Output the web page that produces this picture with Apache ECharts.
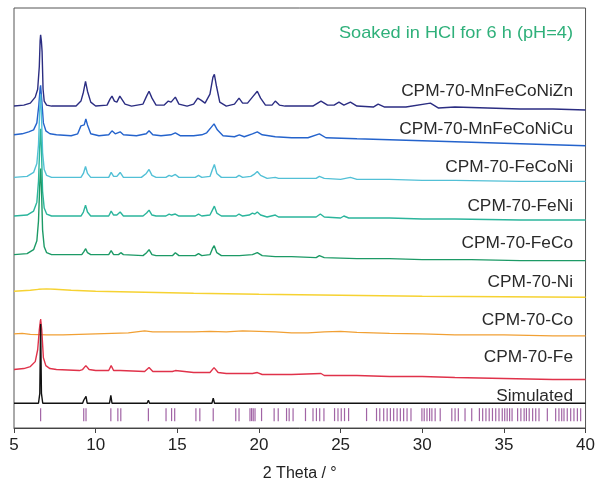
<!DOCTYPE html>
<html>
<head>
<meta charset="utf-8">
<script src="https://cdn.jsdelivr.net/npm/echarts@6/dist/echarts.min.js"></script>
<style>
  html, body { margin: 0; padding: 0; background: #fff; }
  #chart { width: 598px; height: 487px; }
</style>
</head>
<body>
<div id="chart"></div>
<script>
// PXRD patterns of CPM-70 samples after soaking in HCl (pH = 4), 2θ in degrees,
// intensity in arbitrary units relative to each pattern's own baseline.

const xTicks = [5, 10, 15, 20, 25, 30, 35, 40];

const patMnFeCoNiZn = [
  [5,0],[5.6,1],[6.0,3],[6.3,9],[6.45,17],[6.55,40],[6.6,66],[6.63,72],[6.68,65],[6.72,55],[6.78,17],[6.85,5],[7.0,1],[7.3,0],
  [8.8,0],[9.1,5],[9.25,14],[9.38,25],[9.5,15],[9.7,4],[10.0,0],
  [10.7,1],[10.88,7],[11.0,10],[11.15,5],[11.3,4],[11.48,10],[11.6,9],[11.8,2],[12.2,0],
  [12.9,2],[13.12,10],[13.27,15],[13.45,8],[13.7,1],
  [14.2,1],[14.45,5],[14.62,4],[14.88,9],[15.1,2],[15.6,0],
  [16.0,2],[16.25,8],[16.45,6],[16.7,3],[17.0,12],[17.18,29],[17.27,32],[17.4,20],[17.6,4],[18.0,0],
  [18.5,2],[18.78,8],[19.0,3],[19.3,3],[19.65,10],[19.9,15],[20.1,8],[20.4,1],[20.8,1],[21.0,5],[21.25,1],[21.6,0],
  [22.4,0],[23.3,0],[23.8,5],[24.2,1],[24.6,1],[24.9,4],[25.2,1],[25.6,4],[26.0,0],[27.0,-1],[27.3,2],[27.7,-1],
  [29.0,-1],[30.5,3],[31.0,-2],[32.0,-1],[34.0,-2],[36.0,-3],[38.0,-3],[40.0,-4]
];

const patMnFeCoNiCu = [
  [5,0],[5.5,1],[5.9,3],[6.2,5],[6.4,12],[6.52,30],[6.6,47],[6.63,50],[6.7,35],[6.8,12],[6.95,4],[7.2,1],[7.6,0],
  [8.5,-1],[8.9,1],[9.1,9],[9.22,7],[9.3,10],[9.4,16],[9.5,10],[9.7,1],[10.2,-1],
  [10.8,0],[11.0,4],[11.2,1],[11.3,0],[11.5,3],[11.7,0],[12.5,-1],[13.1,1],[13.27,4],[13.5,0],[14.0,-1],
  [14.6,0],[14.88,2],[15.2,-1],[16.0,-1],[16.5,0],[16.8,2],[17.1,8],[17.25,11],[17.45,5],[17.8,-1],
  [18.5,-2],[18.8,0],[19.1,-2],[19.6,1],[19.9,3],[20.2,0],[21.0,-2],[22.0,-3],[23.0,-3],[23.7,1],[24.1,-3],
  [26.0,-4],[28.0,-5],[30.0,-6],[32.0,-7],[34.0,-8],[36.0,-9],[38.0,-10],[40.0,-11]
];

const patFeCoNi = [
  [5,0],[5.8,1],[6.2,5],[6.4,14],[6.5,33],[6.58,70],[6.63,84],[6.68,65],[6.75,25],[6.85,8],[7.0,2],[7.3,0],
  [9.1,0],[9.25,4],[9.38,11],[9.5,4],[9.7,0],
  [10.8,0],[10.95,5],[11.1,1],[11.3,1],[11.5,5],[11.7,0],
  [12.8,0],[13.1,4],[13.27,8],[13.45,2],[13.7,0],
  [14.3,0],[14.5,2],[14.65,1],[14.88,3],[15.1,0],[16.1,0],[16.3,2],[16.5,0],[17.0,1],[17.15,8],[17.27,13],[17.42,4],[17.7,0],
  [18.6,0],[18.78,2],[19.0,0],[19.5,1],[19.7,3],[19.9,6],[20.1,2],[20.5,-1],[21.0,0],[21.2,-1],[22.0,-1],
  [23.5,-1],[23.7,1],[24.0,-1],[25.0,-2],[25.6,0],[26.0,-2],[28.0,-2],[30.0,-3],[32.0,-3],[36.0,-4],[40.0,-4]
];

const patFeNi = [
  [5,0],[5.8,1],[6.2,5],[6.4,14],[6.5,35],[6.58,72],[6.63,88],[6.68,68],[6.75,25],[6.85,8],[7.0,2],[7.3,0],
  [9.1,0],[9.25,4],[9.38,11],[9.5,4],[9.7,0],
  [10.8,0],[10.95,5],[11.1,1],[11.3,1],[11.5,4],[11.7,0],
  [12.9,0],[13.12,3],[13.27,6],[13.45,1],[13.7,0],
  [14.3,0],[14.5,2],[14.65,1],[14.88,2],[15.1,0],[16.1,0],[16.3,2],[16.5,0],[17.0,1],[17.15,6],[17.27,10],[17.42,3],[17.7,0],
  [18.6,0],[18.78,2],[19.0,0],[19.4,1],[19.6,3],[19.75,2],[19.9,4],[20.1,1],[20.5,-1],[21.0,1],[21.2,-1],[22.0,-1],
  [23.5,-1],[23.76,2],[24.0,-1],[25.0,-2],[25.2,0],[25.5,-2],[28.0,-2],[30.0,-3],[32.0,-3],[36.0,-4],[40.0,-4]
];

const patFeCo = [
  [5,0],[5.8,1],[6.2,5],[6.4,14],[6.5,34],[6.58,72],[6.63,87],[6.68,68],[6.75,25],[6.85,8],[7.0,2],[7.3,0],
  [9.15,0],[9.28,3],[9.39,6],[9.5,2],[9.7,0],
  [10.8,0],[10.95,4],[11.1,0],[11.4,0],[11.54,2],[11.7,0],
  [12.9,-1],[13.12,2],[13.27,5],[13.45,0],[13.7,-1],
  [14.7,-1],[14.88,2],[15.1,-1],[16.1,-1],[16.3,1],[16.5,-1],[17.0,0],[17.15,6],[17.26,9],[17.42,2],[17.7,-1],
  [18.8,-1],[19.6,0],[19.9,2],[20.2,-1],[21.0,-2],[22.0,-2],[23.5,-3],[23.7,-1],[24.0,-3],[26.0,-4],
  [28.0,-4],[30.0,-5],[33.0,-5],[36.0,-6],[40.0,-6]
];

const patNi = [
  [5,0],[6.0,1],[6.5,2],[7.0,2.5],[7.5,2],[8.5,1],[10.0,0],[13.0,-1],[16.0,-2],[20.0,-3],
  [25.0,-4],[30.0,-5],[35.0,-5.5],[40.0,-6]
];

const patCo = [
  [5,0],[5.5,0.5],[6.0,-0.5],[7.0,-1],[8.0,-1],[9.0,-0.5],[10.0,0],[11.0,0.5],[12.0,1],[13.0,3],[13.5,2],
  [14.5,2],[16.0,2],[17.0,2.5],[18.0,2],[19.0,3],[20.0,2.5],[21.0,2],[22.0,1],[23.0,1],[24.0,2],[25.0,2.5],
  [26.0,1.5],[27.0,1],[28.0,0.5],[30.0,0],[32.0,-1],[35.0,-1],[38.0,-2],[40.0,-2]
];

const patFe = [
  [5,0],[5.6,1],[6.0,3],[6.3,8],[6.45,20],[6.55,40],[6.63,51],[6.7,40],[6.8,12],[6.95,4],[7.2,1],[7.6,0],
  [9.0,-1],[9.2,0],[9.4,4],[9.6,0],[10.0,-1],[10.8,-1],[10.95,4],[11.1,-1],[11.5,-1],[13.0,-2],[13.27,2],[13.5,-2],
  [14.5,-2],[14.6,0],[14.7,-2],[14.88,-1],[15.0,-3],[16.0,-3],[17.0,-3],[17.25,2],[17.5,-3],[18.0,-4],
  [19.6,-4],[19.9,-3],[20.2,-5],[22.0,-5],[23.8,-4],[24.0,-6],[26.0,-6],[28.0,-7],[30.0,-7],[32.0,-8],
  [35.0,-9],[38.0,-10],[40.0,-10]
];

const patSimulated = [
  [5,0],[6.5,0],[6.58,10],[6.63,80],[6.68,10],[6.76,0],
  [9.2,0],[9.27,3],[9.32,2],[9.41,7],[9.48,0],
  [10.85,0],[10.93,8],[11.0,0],[11.3,0],[11.36,1],[11.42,0],[11.5,0],[11.54,1.5],[11.6,0],
  [13.15,0],[13.23,3],[13.3,0],[14.25,0],[14.31,1.5],[14.37,0],[14.6,0],[14.65,1],[14.7,0],[14.78,0],[14.84,1.5],[14.9,0],
  [16.1,0],[16.14,0.8],[16.2,0],[17.12,0],[17.2,5],[17.28,0],[18.55,0],[18.6,1],[18.65,0],
  [19.5,0],[19.6,1.5],[19.7,0],[20.1,0],[20.16,1],[20.22,0],[40,0]
];

// Calculated reflection positions (2θ) shown as the tick row
const braggPositions = [
  6.63, 9.27, 9.41, 10.93, 11.36, 11.54, 13.23, 14.31, 14.65, 14.84, 16.14, 16.38, 17.2, 18.58, 18.78,
  19.45, 19.55, 19.65, 19.76, 20.16, 20.93, 21.18, 21.69, 21.85, 22.09, 22.85, 23.31, 23.52, 23.72, 23.98,
  24.63, 24.84, 25.04, 25.24, 25.49, 26.59, 27.2, 27.4, 27.64, 27.85, 28.05, 28.25, 28.46, 28.66, 28.86,
  29.07, 29.31, 29.98, 30.12, 30.29, 30.45, 30.59, 30.79, 31.1, 31.81, 32.01, 32.21, 32.62, 33.03,
  33.5, 33.7, 33.9, 34.1, 34.3, 34.5, 34.7, 34.9, 35.05, 35.2, 35.35, 35.5, 35.84, 36.04, 36.24, 36.38,
  36.55, 36.76, 36.95, 37.15, 37.66, 38.17, 38.37, 38.54, 38.68, 38.88, 39.09, 39.29, 39.5, 39.7
];

const sampleNames = [
  'CPM-70-MnFeCoNiZn', 'CPM-70-MnFeCoNiCu', 'CPM-70-FeCoNi', 'CPM-70-FeNi', 'CPM-70-FeCo',
  'CPM-70-Ni', 'CPM-70-Co', 'CPM-70-Fe', 'Simulated'
];

const patterns = [patMnFeCoNiZn, patMnFeCoNiCu, patFeCoNi, patFeNi, patFeCo, patNi, patCo, patFe, patSimulated];

// Drawing styles: colour, vertical stacking offset, label height
const styles = [
  { color: '#2b2d82', offset: 325, labelY: 92 },
  { color: '#2463cc', offset: 296, labelY: 130 },
  { color: '#52c0d6', offset: 253, labelY: 168 },
  { color: '#2bb59c', offset: 214, labelY: 207 },
  { color: '#1c9a66', offset: 175, labelY: 244 },
  { color: '#f6d232', offset: 138, labelY: 283 },
  { color: '#f1a034', offset: 95,  labelY: 321 },
  { color: '#e0324a', offset: 59,  labelY: 358 },
  { color: '#111111', offset: 25,  labelY: 397 }
];

const TEXT_FONT = '"Liberation Sans", Arial, sans-serif';

const chart = echarts.init(document.getElementById('chart'), null, { renderer: 'canvas' });

const lineSeries = patterns.map((pat, i) => ({
  type: 'line',
  name: sampleNames[i],
  data: pat.map(([x, y]) => [x, y + styles[i].offset]),
  showSymbol: false,
  silent: true,
  lineStyle: { color: styles[i].color, width: 1.4 },
  z: 2 + i
}));

const tickSeries = {
  type: 'scatter',
  name: 'reflections',
  data: braggPositions.map(x => [x, 13.5]),
  symbol: 'rect',
  symbolSize: [1.2, 13],
  silent: true,
  itemStyle: { color: '#8a3d8f', opacity: 0.8 },
  z: 1
};

const labels = sampleNames.map((name, i) => ({
  type: 'text',
  x: 573,
  y: styles[i].labelY,
  scaleX: 1.08,
  style: {
    text: name,
    align: 'right',
    verticalAlign: 'middle',
    fill: '#2a2a2a',
    font: '16px ' + TEXT_FONT
  }
}));

labels.push({
  type: 'text',
  x: 573,
  y: 33,
  scaleX: 1.07,
  style: {
    text: 'Soaked in HCl for 6 h (pH=4)',
    align: 'right',
    verticalAlign: 'middle',
    fill: '#2fb07a',
    font: '17px ' + TEXT_FONT
  }
});

chart.setOption({
  animation: false,
  backgroundColor: '#ffffff',
  grid: {
    left: 14, right: 10, top: 8, bottom: 55,
    show: true, borderColor: '#555', borderWidth: 1
  },
  xAxis: {
    type: 'value',
    min: 5, max: 40, interval: 5,
    name: '2 Theta / °',
    nameLocation: 'middle',
    nameGap: 38,
    nameTextStyle: { fontSize: 16, color: '#222', fontFamily: TEXT_FONT },
    axisLine: { show: true, lineStyle: { color: '#444', width: 1 } },
    axisTick: { show: true, inside: false, length: 5, lineStyle: { color: '#444' } },
    axisLabel: {
      fontSize: 17, color: '#222', margin: 9, fontFamily: TEXT_FONT,
      formatter: v => (xTicks.includes(v) ? String(v) : '')
    },
    splitLine: { show: false }
  },
  yAxis: {
    type: 'value',
    min: 0, max: 424,
    show: false
  },
  graphic: labels,
  series: [tickSeries, ...lineSeries]
});
</script>
</body>
</html>
